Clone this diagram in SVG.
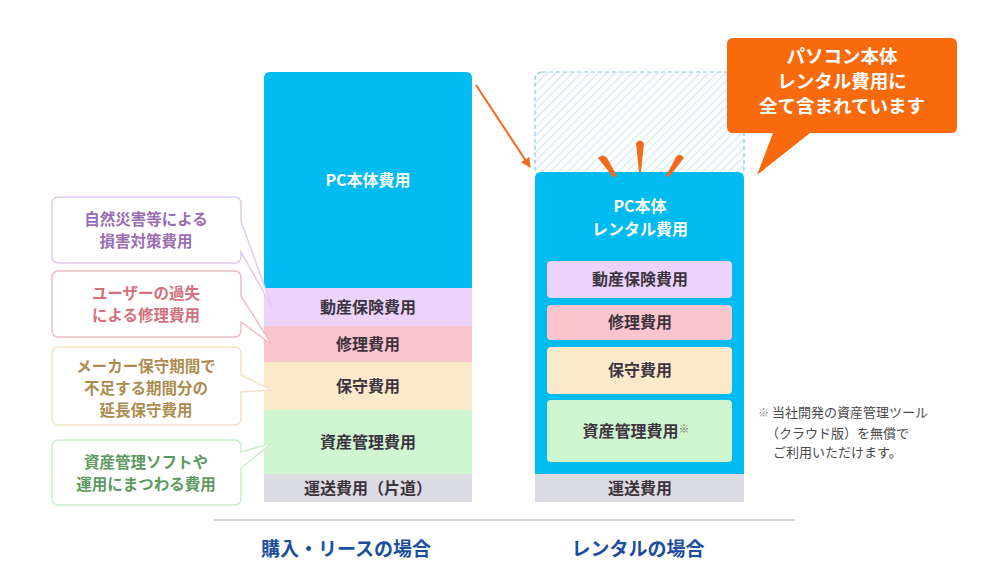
<svg xmlns="http://www.w3.org/2000/svg" width="1000" height="587" viewBox="0 0 1000 587">
<defs>
<pattern id="hatch" patternUnits="userSpaceOnUse" width="6" height="6" patternTransform="rotate(45)">
<rect width="6" height="6" fill="#ffffff"/>
<line x1="0" y1="0" x2="0" y2="6" stroke="#cfe9f5" stroke-width="2.5"/>
</pattern>
<marker id="ah" viewBox="0 0 10 10" refX="9" refY="5" markerWidth="5" markerHeight="5" orient="auto" markerUnits="strokeWidth">
<path d="M0,0 L10,5 L0,10 z" fill="#f26a1b"/>
</marker>
<style>
text{font-family:"Noto Sans CJK JP","Noto Sans",sans-serif;font-weight:bold;text-anchor:middle}
.seg{font-size:16px;fill:#3d3340}
.call{font-size:15.5px}
.foot{font-size:13px;fill:#4a4a4a;font-weight:normal;text-anchor:start}
.cap{font-size:19px;fill:#1b4f9e}
.white{fill:#ffffff}
.big{font-size:18.5px;fill:#ffffff}
</style>
</defs>
<rect width="1000" height="587" fill="#ffffff"/>

<g id="connectors">
<line x1="476" y1="85" x2="530" y2="167" stroke="#f26a1b" stroke-width="2" marker-end="url(#ah)"/>
</g>

<g id="left-column">
<path d="M264,288 V78 Q264,72 270,72 H466 Q472,72 472,78 V288 Z" fill="#00bbf0"/>
<text class="seg white" x="368" y="186">PC本体費用</text>
<rect x="264" y="288" width="208" height="38" fill="#ecd3fa"/>
<text class="seg" x="368" y="313">動産保険費用</text>
<rect x="264" y="326" width="208" height="36" fill="#fbc5cd"/>
<text class="seg" x="368" y="350">修理費用</text>
<rect x="264" y="362" width="208" height="48" fill="#fbe9ca"/>
<text class="seg" x="368" y="392">保守費用</text>
<rect x="264" y="410" width="208" height="64" fill="#cff6cf"/>
<text class="seg" x="368" y="448">資産管理費用</text>
<rect x="264" y="474" width="208" height="28" fill="#dcdde3"/>
<text class="seg" x="368" y="494">運送費用（片道）</text>
</g>

<g id="right-column">
<rect x="535" y="72" width="209" height="104" rx="7" fill="url(#hatch)" stroke="#8cc6df" stroke-width="1.2" stroke-dasharray="4,3"/>
<path d="M535,474 V178 Q535,172 541,172 H738 Q744,172 744,178 V474 Z" fill="#00bbf0"/>
<text class="seg white" x="640" y="212">PC本体</text>
<text class="seg white" x="640" y="235">レンタル費用</text>
<rect x="547" y="261" width="185" height="37" rx="4" fill="#ecd3fa"/>
<text class="seg" x="640" y="285">動産保険費用</text>
<rect x="547" y="305" width="185" height="35" rx="4" fill="#fbc5cd"/>
<text class="seg" x="640" y="328">修理費用</text>
<rect x="547" y="347" width="185" height="47" rx="4" fill="#fbe9ca"/>
<text class="seg" x="640" y="376">保守費用</text>
<rect x="547" y="400" width="185" height="62" rx="4" fill="#cff6cf"/>
<text class="seg" x="636" y="437">資産管理費用<tspan font-size="11" font-weight="normal" fill="#777" dy="-4">※</tspan></text>
<rect x="535" y="474" width="209" height="28" fill="#dcdde3"/>
<text class="seg" x="640" y="494">運送費用</text>
</g>

<g id="sparks" fill="#f26a1b">
<path d="M598,158 Q603,153 607,158 L617,176 L613,177 Z"/>
<path d="M636,143 Q640,138 644,143 L641,172 L639,172 Z"/>
<path d="M676,157 Q680,152 684,158 L669,177 L666,176 Z"/>
</g>

<g id="callout-orange">
<path d="M733,38 H951 Q957,38 957,44 V127 Q957,133 951,133 H810 L757,175 L773,133 H733 Q727,133 727,127 V44 Q727,38 733,38 Z" fill="#f96a0d"/>
<text class="big" x="842" y="63">パソコン本体</text>
<text class="big" x="842" y="88">レンタル費用に</text>
<text class="big" x="842" y="113">全て含まれています</text>
</g>

<g id="callout-1">
<path d="M59,197 H234 Q241,197 241,204 V221 L272,307 L241,252 V256 Q241,263 234,263 H59 Q52,263 52,256 V204 Q52,197 59,197 Z" fill="#ffffff" stroke="#e2cbef" stroke-width="1.5"/>
<text class="call" x="146" y="225" fill="#9a6cb4">自然災害等による</text>
<text class="call" x="146" y="247" fill="#9a6cb4">損害対策費用</text>
</g>
<g id="callout-2">
<path d="M59,271 H234 Q241,271 241,278 V296 L272,345 L241,322 V330 Q241,337 234,337 H59 Q52,337 52,330 V278 Q52,271 59,271 Z" fill="#ffffff" stroke="#f1bcc4" stroke-width="1.5"/>
<text class="call" x="146" y="299" fill="#d2707c">ユーザーの過失</text>
<text class="call" x="146" y="321" fill="#d2707c">による修理費用</text>
</g>
<g id="callout-3">
<path d="M59,347 H234 Q241,347 241,354 V375 L272,390 L241,392 V418 Q241,425 234,425 H59 Q52,425 52,418 V354 Q52,347 59,347 Z" fill="#ffffff" stroke="#f3e2c6" stroke-width="1.5"/>
<text class="call" x="146" y="372" fill="#ad8d4e">メーカー保守期間で</text>
<text class="call" x="146" y="394" fill="#ad8d4e">不足する期間分の</text>
<text class="call" x="146" y="416" fill="#ad8d4e">延長保守費用</text>
</g>
<g id="callout-4">
<path d="M59,440 H234 Q241,440 241,447 V452 L272,443 L241,468 V498 Q241,505 234,505 H59 Q52,505 52,498 V447 Q52,440 59,440 Z" fill="#ffffff" stroke="#cdeccd" stroke-width="1.5"/>
<text class="call" x="146" y="468" fill="#5b9a5e">資産管理ソフトや</text>
<text class="call" x="146" y="490" fill="#5b9a5e">運用にまつわる費用</text>
</g>

<g id="footnote">
<text class="foot" x="758" y="417"><tspan font-size="11" fill="#888">※</tspan> 当社開発の資産管理ツール</text>
<text class="foot" x="766" y="438">（クラウド版）を無償で</text>
<text class="foot" x="773" y="457">ご利用いただけます。</text>
</g>

<g id="axis">
<line x1="214" y1="520" x2="795" y2="520" stroke="#d3d7de" stroke-width="2"/>
<text class="cap" x="346" y="556">購入・リースの場合</text>
<text class="cap" x="638" y="556">レンタルの場合</text>
</g>
</svg>
